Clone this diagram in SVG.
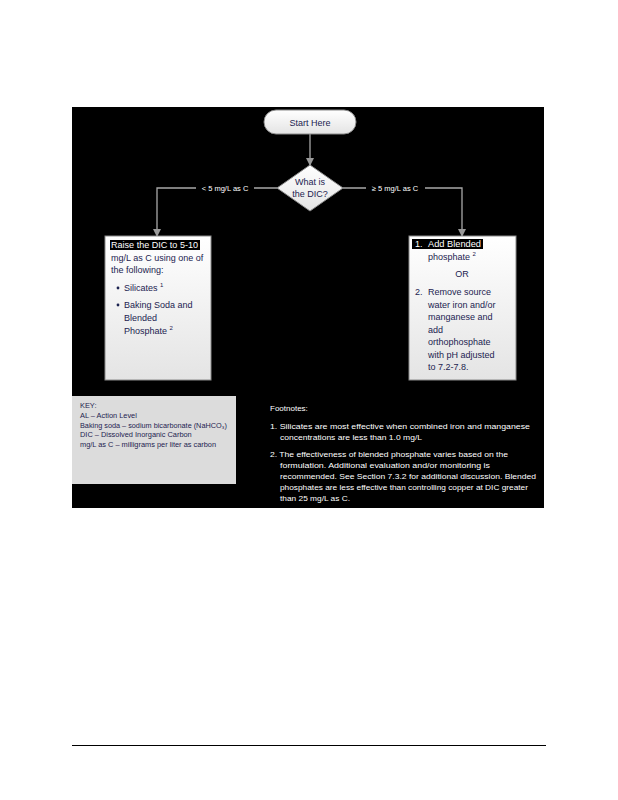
<svg xmlns="http://www.w3.org/2000/svg" width="618" height="800" viewBox="0 0 618 800">
<defs>
<linearGradient id="g" x1="0" y1="0" x2="0" y2="1"><stop offset="0" stop-color="#ffffff"/><stop offset="1" stop-color="#e4e4e4"/></linearGradient>
<marker id="arr" markerWidth="8" markerHeight="8" refX="7" refY="4" orient="auto" markerUnits="userSpaceOnUse"><path d="M0,0 L8,4 L0,8 z" fill="#9a9a9a"/></marker>
<style>
.t{font-family:"Liberation Sans",Arial,sans-serif;fill:#1c2350;font-size:9px}
.w{font-family:"Liberation Sans",Arial,sans-serif;fill:#ffffff;font-size:9px}
.k{font-family:"Liberation Sans",Arial,sans-serif;fill:#1c2350;font-size:7.4px}
.f{font-family:"Liberation Sans",Arial,sans-serif;fill:#ffffff;font-size:8px}
.l{font-family:"Liberation Sans",Arial,sans-serif;fill:#ffffff;font-size:7.5px}
.c{stroke:#a8a8a8;stroke-width:1.3;fill:none}
.box{fill:url(#g);stroke:#8a8a8a;stroke-width:1}
</style>
</defs>
<rect width="618" height="800" fill="#ffffff"/>
<rect x="72" y="107" width="472" height="401" fill="#000000"/>
<g id="connectors">
<line class="c" x1="310" y1="134" x2="310" y2="165" marker-end="url(#arr)"/>
<polyline class="c" points="277,188 157,188 157,236" marker-end="url(#arr)"/>
<polyline class="c" points="343,188 462,188 462,236" marker-end="url(#arr)"/>
<rect x="196" y="183" width="58" height="10" fill="#000"/>
<text class="l" x="225" y="191" text-anchor="middle">&lt; 5 mg/L as C</text>
<rect x="366" y="183" width="59" height="10" fill="#000"/>
<text class="l" x="395" y="191" text-anchor="middle">≥ 5 mg/L as C</text>
</g>
<g id="start">
<rect class="box" x="264" y="110" width="92" height="24" rx="12"/>
<text class="t" x="310" y="125.5" text-anchor="middle">Start Here</text>
</g>
<g id="decision">
<polygon class="box" points="310,165 343,188 310,211 277,188"/>
<text class="t" x="310" y="185" text-anchor="middle">What is</text>
<text class="t" x="310" y="197" text-anchor="middle">the DIC?</text>
</g>
<g id="raise">
<rect class="box" x="105" y="236" width="106" height="144"/>
<rect x="110" y="240" width="90" height="10" fill="#000"/>
<text class="w" x="111" y="248" textLength="87" lengthAdjust="spacingAndGlyphs">Raise the DIC to 5-10</text>
<text class="t" x="111" y="261">mg/L as C using one of</text>
<text class="t" x="111" y="273">the following:</text>
<circle cx="118" cy="288" r="1.4" fill="#1c2350"/>
<text class="t" x="124" y="291">Silicates <tspan font-size="6" dy="-4">1</tspan></text>
<circle cx="118" cy="305" r="1.4" fill="#1c2350"/>
<text class="t" x="124" y="308">Baking Soda and</text>
<text class="t" x="124" y="321">Blended</text>
<text class="t" x="124" y="334">Phosphate <tspan font-size="6" dy="-4">2</tspan></text>
</g>
<g id="add">
<rect class="box" x="409" y="236" width="107" height="144"/>
<rect x="412" y="239" width="71" height="10" fill="#000"/>
<text class="w" x="415" y="247">1.</text>
<text class="w" x="428" y="247" textLength="53" lengthAdjust="spacingAndGlyphs">Add Blended</text>
<text class="t" x="428" y="260">phosphate <tspan font-size="6" dy="-4">2</tspan></text>
<text class="t" x="462" y="277" text-anchor="middle">OR</text>
<text class="t" x="415" y="295">2.</text>
<text class="t" x="428" y="295">Remove source</text>
<text class="t" x="428" y="307.5">water iron and/or</text>
<text class="t" x="428" y="320">manganese and</text>
<text class="t" x="428" y="332.5">add</text>
<text class="t" x="428" y="345">orthophosphate</text>
<text class="t" x="428" y="357.5">with pH adjusted</text>
<text class="t" x="428" y="370">to 7.2-7.8.</text>
</g>
<g id="key">
<rect x="72" y="396" width="164" height="88" fill="#dcdcdc"/>
<text class="k" x="80" y="408">KEY:</text>
<text class="k" x="80" y="418">AL – Action Level</text>
<text class="k" x="80" y="427.5" textLength="147" lengthAdjust="spacingAndGlyphs">Baking soda – sodium bicarbonate (NaHCO₃)</text>
<text class="k" x="80" y="437">DIC – Dissolved Inorganic Carbon</text>
<text class="k" x="80" y="446.5">mg/L as C – milligrams per liter as carbon</text>
</g>
<g id="footnotes">
<text class="f" x="270" y="411">Footnotes:</text>
<text class="f" x="270" y="429" textLength="260" lengthAdjust="spacingAndGlyphs">1. Silicates are most effective when combined iron and manganese</text>
<text class="f" x="280" y="440" textLength="142" lengthAdjust="spacingAndGlyphs">concentrations are less than 1.0 mg/L</text>
<text class="f" x="270" y="457" textLength="238" lengthAdjust="spacingAndGlyphs">2. The effectiveness of blended phosphate varies based on the</text>
<text class="f" x="280" y="467.5" textLength="210" lengthAdjust="spacingAndGlyphs">formulation. Additional evaluation and/or monitoring is</text>
<text class="f" x="280" y="479" textLength="256" lengthAdjust="spacingAndGlyphs">recommended. See Section 7.3.2 for additional discussion. Blended</text>
<text class="f" x="280" y="490" textLength="248" lengthAdjust="spacingAndGlyphs">phosphates are less effective than controlling copper at DIC greater</text>
<text class="f" x="280" y="501" textLength="70" lengthAdjust="spacingAndGlyphs">than 25 mg/L as C.</text>
</g>
<line x1="72" y1="745.5" x2="546" y2="745.5" stroke="#000" stroke-width="1"/>
</svg>
